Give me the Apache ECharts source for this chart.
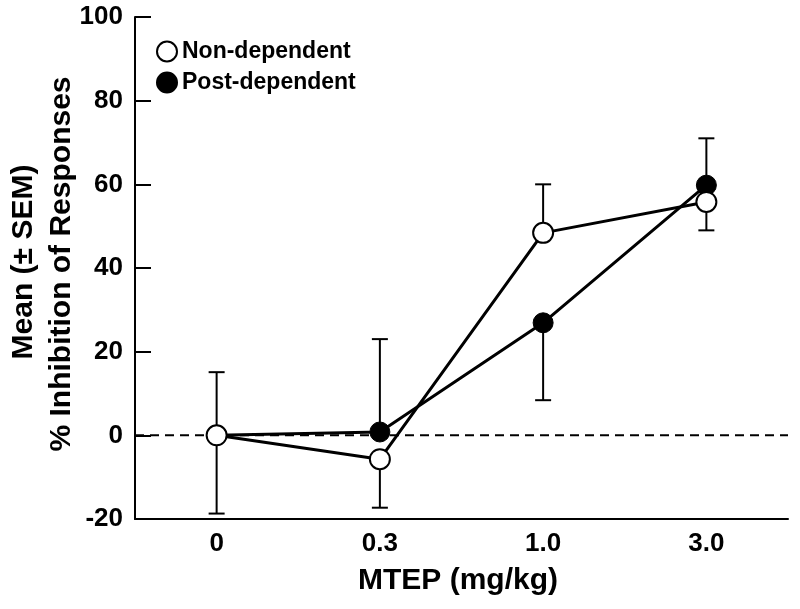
<!DOCTYPE html>
<html>
<head>
<meta charset="utf-8">
<script src="https://cdn.jsdelivr.net/npm/echarts@6/dist/echarts.min.js"></script>
<style>
html,body{margin:0;padding:0;background:#fff;}
#chart{width:800px;height:609px;}
</style>
</head>
<body>
<div id="chart"></div>
<script>
// ---- data ----
const doses = ['0', '0.3', '1.0', '3.0'];
const yTicks = [-20, 0, 20, 40, 60, 80, 100];
const nonDependentMean = [0, -5.7, 48.4, 55.8];
const nonDependentBarEnd = [-18.7, -17.3, 60.0, 49.0];
const postDependentMean = [0, 0.8, 26.9, 59.8];
const postDependentBarEnd = [15.1, 23.0, 8.4, 71.0];
const seriesNames = ['Non-dependent', 'Post-dependent'];
const referenceLevel = [0];

const FONT = '"Liberation Sans", Arial, Helvetica, sans-serif';

function errData(mean, end) {
  return mean.map((m, i) => [i, m, end[i]]);
}
function errRender(params, api) {
  const p0 = api.coord([api.value(0), api.value(1)]);
  const p1 = api.coord([api.value(0), api.value(2)]);
  const half = 8;
  const st = { stroke: '#000', lineWidth: 2 };
  return {
    type: 'group',
    children: [
      { type: 'line', shape: { x1: p0[0], y1: p0[1], x2: p1[0], y2: p1[1] }, style: st },
      { type: 'line', shape: { x1: p1[0] - half, y1: p1[1], x2: p1[0] + half, y2: p1[1] }, style: st }
    ]
  };
}
function zeroRender(params, api) {
  const cs = params.coordSys;
  const y = api.coord([0, api.value(0)])[1];
  return {
    type: 'line',
    shape: { x1: cs.x, y1: y, x2: cs.x + cs.width, y2: y },
    style: { stroke: '#000', lineWidth: 2, lineDash: [9, 6] }
  };
}

const chart = echarts.init(document.getElementById('chart'), null, { renderer: 'canvas' });
chart.setOption({
  animation: false,
  backgroundColor: '#fff',
  grid: { left: 135, right: 12, top: 17, bottom: 90, containLabel: false },
  legend: {
    orient: 'vertical',
    left: 156,
    top: 40,
    padding: 0,
    itemWidth: 20,
    itemHeight: 20,
    itemGap: 8,
    textStyle: { fontFamily: FONT, fontSize: 23, fontWeight: 'bold', color: '#000' },
    data: [
      { name: seriesNames[0], icon: 'circle', itemStyle: { color: '#fff', borderColor: '#000', borderWidth: 2 } },
      { name: seriesNames[1], icon: 'circle', itemStyle: { color: '#000', borderColor: '#000', borderWidth: 2 } }
    ]
  },
  xAxis: {
    type: 'category',
    data: doses,
    boundaryGap: true,
    axisLine: { onZero: false, lineStyle: { color: '#000', width: 2 } },
    axisTick: { alignWithLabel: true, inside: true, length: 12, lineStyle: { color: '#000', width: 2 } },
    axisLabel: { fontFamily: FONT, fontSize: 26, fontWeight: 'bold', color: '#000', margin: 12 },
    splitLine: { show: false }
  },
  yAxis: {
    type: 'value',
    min: yTicks[0],
    max: yTicks[yTicks.length - 1],
    interval: 20,
    axisLine: { show: true, onZero: false, lineStyle: { color: '#000', width: 2 } },
    axisTick: { show: true, inside: true, length: 16, lineStyle: { color: '#000', width: 2 } },
    axisLabel: { fontFamily: FONT, fontSize: 26, fontWeight: 'bold', color: '#000', margin: 12 },
    splitLine: { show: false }
  },
  graphic: [
    {
      type: 'text', x: 24, y: 262, rotation: Math.PI / 2,
      style: { text: 'Mean (± SEM)', fontFamily: FONT, fontSize: 30, fontWeight: 'bold', fill: '#000', align: 'center', verticalAlign: 'middle' }
    },
    {
      type: 'text', x: 62, y: 264, rotation: Math.PI / 2,
      style: { text: '% Inhibition of Responses', fontFamily: FONT, fontSize: 30, fontWeight: 'bold', fill: '#000', align: 'center', verticalAlign: 'middle' }
    },
    {
      type: 'text', x: 458, y: 581,
      style: { text: 'MTEP (mg/kg)', fontFamily: FONT, fontSize: 30, fontWeight: 'bold', fill: '#000', align: 'center', verticalAlign: 'middle' }
    }
  ],
  series: [
    {
      name: 'zero', type: 'custom', renderItem: zeroRender, z: 0, silent: true,
      data: referenceLevel.map(v => [v])
    },
    {
      name: 'postErr', type: 'custom', renderItem: errRender, z: 1, silent: true,
      data: errData(postDependentMean, postDependentBarEnd)
    },
    {
      name: 'nonErr', type: 'custom', renderItem: errRender, z: 1, silent: true,
      data: errData(nonDependentMean, nonDependentBarEnd)
    },
    {
      name: seriesNames[1], type: 'line', data: postDependentMean, z: 3,
      symbol: 'circle', symbolSize: 20,
      lineStyle: { color: '#000', width: 3 },
      itemStyle: { color: '#000', borderColor: '#000', borderWidth: 1 }
    },
    {
      name: seriesNames[0], type: 'line', data: nonDependentMean, z: 4,
      symbol: 'circle', symbolSize: 20,
      lineStyle: { color: '#000', width: 3 },
      itemStyle: { color: '#fff', borderColor: '#000', borderWidth: 2 }
    }
  ]
});
</script>
</body>
</html>
